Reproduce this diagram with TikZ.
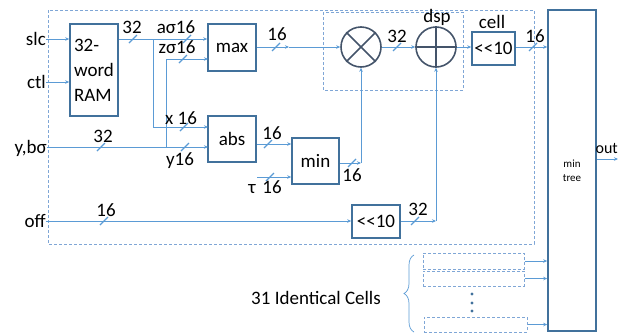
\documentclass[tikz,border=0pt]{standalone}
\usepackage{fontspec}
\setmainfont{Carlito}
\usetikzlibrary{arrows.meta,decorations.pathreplacing}
\definecolor{boxblue}{HTML}{41719C}
\definecolor{wireblue}{HTML}{5B9BD5}
\definecolor{dashblue}{HTML}{7FA6D6}
\definecolor{opgray}{HTML}{44546A}
\tikzset{
  blk/.style={draw=boxblue, line width=1.6pt, inner sep=0pt, minimum width=48, minimum height=47},
  op/.style={circle, draw=opgray, line width=1.6pt, minimum size=40, inner sep=0pt},
  wire/.style={draw=wireblue, line width=0.7pt},
  arr/.style={wire, -{Stealth[length=4pt,width=3.5pt]}},
  cellbox/.style={draw=dashblue, line width=1pt, dash pattern=on 3pt off 2pt},
  busmark/.style={draw=wireblue, line width=1.3pt},
  lbl/.style={inner sep=0pt},
  bus/.pic={\draw[busmark] (-4,4) -- (4,-4);}
}
\begin{document}
\begin{tikzpicture}[x=1pt, y=-1pt, font=\fontsize{19}{23}\selectfont]
\useasboundingbox (0,0) rectangle (618,335);
% one cell and its dsp slice
\draw[cellbox] (48,10) rectangle (534,244);
\draw[cellbox] (323,12) rectangle (463,90);
\node[lbl] (dsp) at (437,17) {dsp};
\node[lbl] (cell) at (492,22) {cell};

% blocks
\node[blk, minimum height=92, align=left, font=\fontsize{19}{25}\selectfont] (ram) at (94,70) {32-\\word\\RAM};
\node[blk] (max) at (232,47.5) {max};
\node[blk, minimum height=46] (abs) at (232,139) {abs};
\node[blk, minimum width=47, minimum height=46] (min) at (315.5,161) {min};
\node[op] (mul) at (361,47) {};
\node[op] (add) at (436,47) {};
\draw[opgray, line width=1.6pt] (mul.45) -- (mul.225) (mul.135) -- (mul.315);
\draw[opgray, line width=1.6pt] (add.north) -- (add.south) (add.west) -- (add.east);
\node[blk, minimum width=43, minimum height=33] (shl) at (493.5,48.5) {<{}<10};
\node[blk, minimum height=33] (shlb) at (376,221.5) {<{}<10};
\node[blk, minimum height=321, align=center, font=\fontsize{11}{14}\selectfont] (tree) at (572,170.5) {min\\tree};

% inputs and output
\node[lbl, anchor=east] (slc) at (46,39) {slc};
\node[lbl, anchor=east] (ctl) at (46,82) {ctl};
\node[lbl, anchor=east] (yb) at (47,148) {y,bσ};
\node[lbl, anchor=east] (off) at (46,221) {off};
\node[lbl, anchor=east, font=\fontsize{16}{19}\selectfont] (out) at (618,148) {out};

% wires
\coordinate (j1) at (153,39);
\coordinate (j2) at (166,147);
\coordinate (zin) at (208,59);
\coordinate (xin) at (208,127);
\coordinate (yin) at (208,147);
\coordinate (mk) at (289,47);
\coordinate (tau) at (257,177);
\coordinate (mc) at (361,163);
\coordinate (sc) at (436,221);
\draw[arr] (slc.east) -- (slc.east -| ram.west);
\draw[arr] (ctl.east) -- (ctl.east -| ram.west);
\draw[arr] (ram.east |- j1) -- (max.west |- j1);
\draw[arr] (j1) |- (xin);
\draw[arr] (47,147) -- (yin);
\draw[arr] (j2) |- (zin);
\draw[arr] (max.east |- mk) -- (mk);
\draw[arr] (mk) -- (mul.west);
\draw[arr] (mul.east) -- (add.west);
\draw[arr] (add.east) -- (add.east -| shl.west);
\draw[arr] (shl.east |- add.east) -- (add.east -| tree.west);
\draw[arr] (abs.east |- 0,144) -- (min.west |- 0,144);
\draw[arr] (tau) -- (min.west |- tau);
\draw[arr] (min.east |- mc) -- (mc);
\draw[arr] (mc) -- (mul.south);
\draw[arr] (off.east) -- (off.east -| shlb.west);
\draw[arr] (shlb.east |- sc) -- (sc);
\draw[arr] (sc) -- (add.south);
\draw[arr] (tree.east |- 0,159) -- (618,159);

% bus widths
\path (133,39) pic{bus} (187,39) pic{bus} (183,59) pic{bus} (184,127) pic{bus}
      (185,147) pic{bus} (101,147) pic{bus} (276,47) pic{bus} (397,47) pic{bus}
      (533,47) pic{bus} (268,144) pic{bus} (270,177) pic{bus} (352,163) pic{bus}
      (104,221) pic{bus} (415,221) pic{bus};
\node[lbl] (w1) at (132,27) {32};
\node[lbl] (w2) at (176,27) {aσ16};
\node[lbl] (w3) at (177,47) {zσ16};
\node[lbl] (w4) at (181,118) {x 16};
\node[lbl] (w5) at (180,161) {y16};
\node[lbl] (w6) at (103,136) {32};
\node[lbl] (w7) at (277,34) {16};
\node[lbl] (w8) at (397,36) {32};
\node[lbl] (w9) at (535,36) {16};
\node[lbl] (w10) at (272,133) {16};
\node[lbl] (w11) at (252,189) {τ};
\node[lbl] (w12) at (272,187) {16};
\node[lbl] (w13) at (352,175) {16};
\node[lbl] (w14) at (106,210) {16};
\node[lbl] (w15) at (418,209) {32};

% the other cells
\node[cellbox, minimum width=101, minimum height=16, inner sep=0pt] (c1) at (473.5,261) {};
\node[cellbox, minimum width=101, minimum height=15, inner sep=0pt] (c2) at (473.5,278.5) {};
\node[cellbox, minimum width=103, minimum height=15, inner sep=0pt] (c3) at (475.5,324.5) {};
\draw[arr] (c1.east) -- (c1.east -| tree.west);
\draw[arr] (c2.east) -- (c2.east -| tree.west);
\draw[arr] (c3.east) -- (c3.east -| tree.west);
\foreach \y in {294,303,311}
  \fill[boxblue] (472,\y) circle (1.7);
\draw[wire, decorate, decoration={brace, amplitude=10}] (414,332) -- (414,255);
\node[lbl] (cells) at (316,298) {31 Identical Cells};
\end{tikzpicture}
\end{document}
